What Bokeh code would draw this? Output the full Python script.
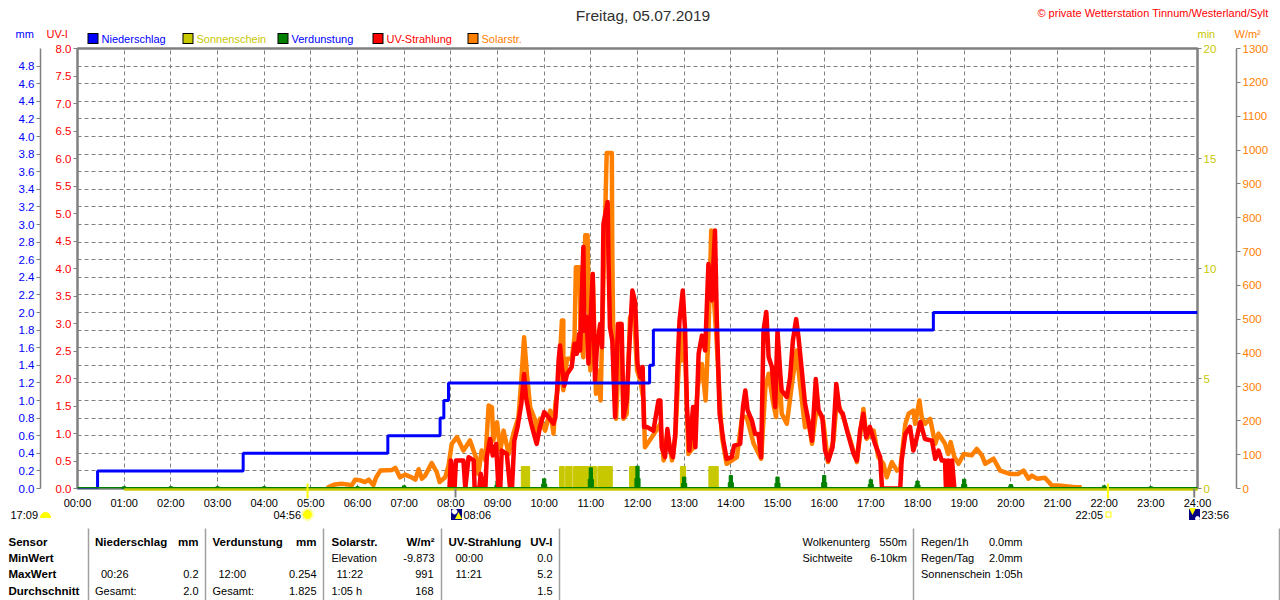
from bokeh.plotting import figure
from bokeh.embed import file_html
from bokeh.resources import INLINE
from bokeh.models import Range1d, LinearAxis, FixedTicker, Grid
from bokeh.core.properties import value

FONT = "Liberation Sans"
GRAY = "#808080"
BLUE = "#0000FF"; OLIVE = "#C8C800"; GREEN = "#008000"; RED = "#FF0000"; ORANGE = "#FF8000"

hours = list(range(25))
hour_labels = [f"{h:02d}:00" for h in hours]
uv_ticks = [i * 0.5 for i in range(17)]
mm_ticks = [round(i * 0.2, 1) for i in range(25)]
min_ticks = [0, 5, 10, 15, 20]
solar_ticks = list(range(0, 1301, 100))

rain_t = [0, 0.43, 3.55, 6.65, 7.77, 7.85, 7.95, 12.26, 12.34, 18.34, 24]
rain_v = [0, 0.2, 0.4, 0.6, 0.8, 1.0, 1.2, 1.4, 1.8, 2.0, 2.0]

sun_start = [9.51, 10.33, 10.46, 10.63, 11.15, 11.83, 12.92, 13.53]
sun_end = [9.69, 10.43, 10.60, 11.12, 11.46, 12.00, 13.03, 13.73]
sun_val = [1, 1, 1, 1, 1, 1, 1, 1]

evap_t = [1, 2, 3, 4, 5, 6, 7, 8, 9, 10, 11, 12, 13, 14, 15, 16, 17, 18, 19, 20, 21, 22, 23]
evap_v = [0.02, 0.02, 0.02, 0.02, 0.01, 0.02, 0.03, 0.03, 0.085, 0.11, 0.235, 0.254, 0.13, 0.147,
          0.13, 0.147, 0.10, 0.085, 0.105, 0.045, 0.03, 0.03, 0.02]

solar_t = [5.35, 5.38, 5.52, 5.66, 5.88, 5.95, 6.06, 6.16, 6.24, 6.34, 6.40, 6.49, 6.74, 6.81, 6.91, 7.02, 7.16, 7.24, 7.31,
           7.38, 7.45, 7.59, 7.70, 7.76, 7.88, 7.95, 8.02, 8.13, 8.27, 8.41, 8.56, 8.59, 8.66, 8.74, 8.81, 8.88, 8.91, 8.99,
           9.06, 9.13, 9.24, 9.34, 9.45, 9.51, 9.57, 9.63, 9.70, 9.81, 9.84, 9.91, 10.02, 10.13, 10.20,
           10.24, 10.31, 10.38, 10.41, 10.41, 10.49, 10.59, 10.65, 10.68, 10.76, 10.78, 10.84, 10.88, 10.93, 10.95, 10.99,
           11.04, 11.11, 11.15, 11.21, 11.25, 11.31, 11.34, 11.45, 11.46, 11.49, 11.54, 11.59, 11.64, 11.70, 11.77, 11.84,
           11.93, 11.99, 12.06, 12.13,
           12.16, 12.31, 12.49, 12.56,
           12.64, 12.74, 12.81, 12.88, 12.93, 12.95, 13.02, 13.09, 13.20, 13.29, 13.38, 13.46, 13.52, 13.58, 13.63, 13.70,
           13.74, 13.81, 13.91, 14.13, 14.24, 14.34, 14.49, 14.65, 14.74, 14.81, 14.91, 14.97, 15.02, 15.09, 15.20, 15.31,
           15.41, 15.49, 15.59, 15.66, 15.74, 15.84, 15.98, 16.08, 16.20, 16.27, 16.41, 16.56, 16.70, 16.84, 16.91, 17.06,
           17.16, 17.27, 17.34, 17.45, 17.56, 17.63, 17.66, 17.74, 17.81, 17.91, 17.95, 18.04, 18.09, 18.16, 18.27, 18.38,
           18.45, 18.59, 18.66, 18.71, 18.79, 18.88, 18.99, 19.16, 19.27, 19.38, 19.45, 19.63, 19.77, 19.98, 20.16, 20.27,
           20.38, 20.45, 20.56, 20.73, 20.88, 21.02, 21.38, 21.52]
solar_v = [0, 4, 12, 14, 10, 26, 24, 19, 26, 10, 33, 53, 55, 61, 33, 41, 33, 26, 57,
           29, 38, 75, 48, 19, 33, 68, 132, 152, 112, 142, 83, 43, 112, 83, 245, 240, 142, 196,
           112, 171, 102, 162, 211, 319, 447, 339, 240, 201, 162, 206, 171, 230, 162,
           250, 309, 496, 496, 290, 383, 383, 447, 654, 654, 447, 388, 748, 748, 556, 349,
           634, 280, 349, 260, 506, 822, 991, 991, 693, 329, 206, 358, 487, 206, 221, 506,
           506, 349, 319, 260,
           122, 152, 191, 83,
           162, 83, 152, 349, 467, 378, 398, 102, 122, 299, 368, 260, 457, 762, 575, 427,
           319, 152, 73, 93, 211, 211, 132, 88, 299, 339, 250, 211, 398, 221, 191, 309,
           408, 299, 181, 201, 132, 240, 201, 78, 142, 260, 211, 142, 78, 235, 147, 171,
           93, 73, 33, 78, 53, 58, 93, 191, 221, 230, 191, 260, 211, 191, 206, 132,
           162, 132, 102, 137, 93, 73, 102, 98, 117, 98, 73, 88, 53, 43, 43, 53,
           29, 38, 29, 32, 9, 9, 4, 4]

uv_t = [7.97, 8.0, 8.08, 8.11, 8.27, 8.31, 8.38, 8.49, 8.51, 8.61, 8.64, 8.69, 8.74, 8.77, 8.84, 8.90, 8.97, 9.02, 9.06,
        9.09, 9.20, 9.27, 9.31, 9.36, 9.43, 9.51, 9.57, 9.61, 9.69, 9.74, 9.84, 9.91, 10.0, 10.09, 10.20,
        10.24, 10.27, 10.31, 10.34, 10.38, 10.43, 10.49, 10.59, 10.65, 10.70, 10.75, 10.77, 10.84, 10.86, 10.91, 10.95,
        11.04, 11.09, 11.13, 11.20, 11.24, 11.27, 11.36, 11.38, 11.41, 11.46, 11.52, 11.58, 11.66, 11.70, 11.77, 11.82,
        11.89, 11.95, 12.0, 12.06, 12.11,
        12.14, 12.20,
        12.34, 12.45, 12.49, 12.52, 12.59, 12.64, 12.70, 12.76, 12.81, 12.86, 12.90, 12.97, 13.02, 13.06, 13.11, 13.19,
        13.24, 13.31, 13.38, 13.45, 13.52, 13.59, 13.66, 13.70, 13.76, 13.84, 13.91, 14.02, 14.07, 14.20, 14.26, 14.31,
        14.36, 14.45, 14.52, 14.59, 14.65, 14.70, 14.76, 14.81, 14.88, 14.95, 15.0, 15.06, 15.09, 15.20, 15.27, 15.33,
        15.40, 15.45, 15.52, 15.59, 15.66, 15.74, 15.82, 15.88, 15.96, 16.02, 16.09, 16.18, 16.26, 16.33, 16.40, 16.49,
        16.63, 16.70, 16.77, 16.84, 16.90, 16.98, 17.09, 17.20, 17.24, 17.63, 17.66, 17.74, 17.84, 17.91, 17.97, 18.06,
        18.16, 18.31, 18.38, 18.45, 18.52, 18.59, 18.61, 18.66, 18.70, 18.74, 18.79]
uv_v = [0, 0.51, 0, 0.51, 0.51, 0, 0.57, 0.51, 0, 0, 0.27, 0, 0, 0.57, 0.90, 0.60, 0.81, 0, 0,
        0.69, 0.63, 0, 0, 0.87, 1.12, 1.54, 2.08, 1.66, 1.30, 1.12, 0.81, 1.12, 1.39, 1.30, 1.18,
        1.30, 1.66, 2.33, 2.60, 2.21, 1.87, 2.08, 2.21, 2.63, 2.45, 2.81, 2.51, 4.39, 2.87, 3.12, 2.27,
        3.90, 1.96, 2.57, 2.99, 2.57, 4.81, 5.21, 4.08, 2.93, 2.69, 1.30, 2.99, 2.99, 1.30, 1.60, 2.51,
        3.60, 3.39, 2.27, 2.02, 2.21,
        1.12, 1.12,
        1.05, 1.60, 1.60, 0.75, 0.57, 1.08, 0.69, 0.57, 0.99, 2.27, 3.05, 3.60, 2.87, 1.48, 0.69, 1.48,
        0.75, 2.45, 2.78, 2.51, 4.08, 3.42, 4.69, 3.05, 1.36, 0.87, 0.54, 0.57, 0.78, 0.81, 1.48, 1.78,
        1.42, 1.24, 0.99, 0.99, 0.57, 2.87, 3.21, 2.39, 2.21, 1.48, 2.87, 2.08, 1.78, 1.66, 2.02, 2.69,
        3.08, 2.75, 2.15, 1.54, 1.24, 0.87, 1.99, 1.42, 1.30, 0.69, 0.51, 0.75, 1.90, 1.42, 1.36, 1.05,
        0.63, 0.51, 1.05, 1.36, 0.93, 1.12, 0.81, 0.57, 0, 0, 0.51, 0.99, 1.12, 0.69, 0.87, 1.21,
        0.90, 0.87, 0.54, 0.69, 0.51, 0.51, 0, 0.51, 0, 0.51, 0]

legend_names = ["Niederschlag", "Sonnenschein", "Verdunstung", "UV-Strahlung", "Solarstr."]
legend_fill = [BLUE, OLIVE, GREEN, RED, ORANGE]
legend_text = [BLUE, OLIVE, BLUE, RED, ORANGE]

sunrise_tick_t = [4.93, 22.08]
dawn_tick_t = [8.10, 23.93]

P_L, P_R, P_T, P_B = 77, 1197, 48, 488
def hx(X): return (X - P_L) / (P_R - P_L) * 24
def sy(Y): return (P_B - Y) / (P_B - P_T) * 1300
def my(Y): return (P_B - Y) / (P_B - P_T) * 5

p = figure(width=1280, height=600, output_backend="svg", toolbar_location=None,
           x_range=Range1d(0, 24), y_range=Range1d(0, 1300),
           x_axis_location="below", y_axis_location=None,
           min_border_left=P_L, min_border_right=1280 - P_R,
           min_border_top=P_T, min_border_bottom=600 - P_B,
           background_fill_color="white", border_fill_color="white")
p.extra_y_ranges = {"mm": Range1d(0, 5), "uv": Range1d(0, 8), "min": Range1d(0, 20)}
p.outline_line_color = GRAY
p.outline_line_width = 2.5

ax = p.xaxis[0]
ax.ticker = FixedTicker(ticks=hours)
ax.major_label_overrides = dict(zip(hours, hour_labels))
ax.axis_line_color = None
ax.major_tick_line_color = None
ax.major_tick_out = 0
ax.major_tick_in = 0
ax.minor_tick_line_color = None
ax.major_label_standoff = 8
ax.major_label_text_font = FONT
ax.major_label_text_font_size = "11px"
ax.major_label_text_color = "black"

def yaxis(rng, ticks, color, side, fmt=None, line=False, extra=None):
    a = LinearAxis(y_range_name=rng, ticker=FixedTicker(ticks=ticks))
    a.major_label_overrides = {t: (fmt % t) for t in ticks} if fmt else {}
    a.major_label_text_color = color
    a.major_label_text_font = FONT
    a.major_label_text_font_size = "11.5px"
    a.major_tick_line_color = GRAY
    a.major_tick_in = 0
    a.major_tick_out = 4
    a.major_label_standoff = 2
    a.minor_tick_line_color = None
    a.axis_line_color = GRAY if line else None
    a.axis_line_width = 1.5
    if extra is not None:
        a.axis_label = " "
        a.axis_label_text_font_size = "1px"
        a.axis_label_standoff = extra
    p.add_layout(a, side)
    return a

uv_axis = yaxis("uv", uv_ticks, RED, "left", "%.1f", extra=8)
mm_axis = yaxis("mm", mm_ticks, BLUE, "left", "%.1f", line=True)
min_axis = yaxis("min", min_ticks, OLIVE, "right", extra=13)
sol_axis = yaxis("default", solar_ticks, ORANGE, "right", line=True)

p.xgrid.ticker = FixedTicker(ticks=hours[1:-1])
p.xgrid.grid_line_color = GRAY
p.xgrid.grid_line_dash = "4 3"
p.xgrid.grid_line_width = 1
p.ygrid.grid_line_color = None
gy = Grid(dimension=1, y_range_name="mm", ticker=FixedTicker(ticks=mm_ticks[1:]))
gy.grid_line_color = GRAY
gy.grid_line_dash = "4 3"
gy.grid_line_width = 1
p.add_layout(gy)

p.quad(left=sun_start, right=sun_end, bottom=0, top=sun_val, y_range_name="min", color=OLIVE)
p.vbar(x=evap_t, top=evap_v, bottom=0, width=0.07, y_range_name="mm", color=GREEN)
p.vbar(x=evap_t, top=[v * 0.45 for v in evap_v], bottom=0, width=0.11, y_range_name="mm", color=GREEN)
p.line(solar_t, solar_v, line_color=ORANGE, line_width=4.5, line_join="round")
p.line(uv_t, uv_v, y_range_name="uv", line_color=RED, line_width=4.5, line_join="round")
p.step(rain_t, rain_v, mode="after", y_range_name="mm", line_color=BLUE, line_width=3)

# baseline bands, below the frame edge
p.segment([1], [my(488.8)], [24], [my(488.8)], y_range_name="mm", line_color=OLIVE, line_width=3, level="overlay")
p.segment([0], [my(487.2)], [24], [my(487.2)], y_range_name="mm", line_color=GREEN, line_width=1.2, level="overlay")

# sunrise / sunset markers on the time axis
p.segment(sunrise_tick_t, my(483), sunrise_tick_t, my(498), y_range_name="mm",
          line_color="#FFFF00", line_width=2, level="overlay")
p.segment(dawn_tick_t, my(488), dawn_tick_t, my(497), y_range_name="mm",
          line_color=GRAY, line_width=2, level="overlay")

# table separators
for X in [88, 205, 323, 441, 559, 913, 1279]:
    p.segment(hx(X), my(528), hx(X), my(600), y_range_name="mm", line_color="#A0A0A0",
              line_width=1.5, level="overlay")

def lab(text, X, Y, color="black", align="left", size="11px", bold=False):
    if bold:
        size = "11.5px"
    p.text(x=[hx(X)], y=[sy(Y)], text=[text], text_color=color, text_align=align,
           text_baseline="middle", text_font=value(FONT), text_font_size=value(size), level="overlay",
           text_font_style="bold" if bold else "normal")

def square(X, Y, side, color):
    # a short thick stroke stands in for a filled square outside the frame
    p.segment([hx(X - side / 2)], [my(Y)], [hx(X + side / 2)], [my(Y)], y_range_name="mm",
              line_color=color, line_width=side, level="overlay")

def disc(X, Y, r, color, start=0, end=6.2):
    p.wedge([hx(X)], [my(Y)], radius=r, radius_units="screen", start_angle=start, end_angle=end,
            y_range_name="mm", fill_color=color, line_color=color, level="overlay")

def tri(X, Y, s, color, up=True):
    d = s if up else -s
    p.patch([hx(X - s), hx(X + s), hx(X)], [my(Y + d), my(Y + d), my(Y - d)], y_range_name="mm",
            fill_color=color, line_color=None, level="overlay")

lab("Freitag, 05.07.2019", 642.5, 15, "#303030", "center", "15.5px")
lab("© private Wetterstation Tinnum/Westerland/Sylt", 1268, 12, RED, "right")
lab("mm", 15, 33, BLUE)
lab("UV-I", 46, 33, RED)
lab("min", 1197, 33, OLIVE)
lab("W/m²", 1234, 33, ORANGE)

# legend
legend_sq = [87, 182, 277, 372, 467]
for X, nm, f, c in zip(legend_sq, legend_names, legend_fill, legend_text):
    square(X + 5.5, 38, 11, "black")
    square(X + 5.5, 38, 9, f)
    lab(nm, X + 14, 38, c)

# sun times
lab("17:09", 10, 514)
lab("04:56", 273, 514)
lab("08:06", 463, 514)
lab("22:05", 1075, 514)
lab("23:56", 1201, 514)
disc(45, 517, 5, "#FFFF00", 0, 3.1416)
disc(307, 514, 6, "#FFFFB0")
disc(307, 514, 4, "#FFFF00")
square(1108, 514, 6, "#FFFF00")
square(1108, 514, 4, "white")
square(456, 514, 11, "#000080")
square(1194, 514, 11, "#000080")
disc(454, 511, 2.5, "white")
tri(458, 515, 3.5, "#FFFF00")
tri(1192, 511, 3.5, "#FFFF00", up=False)
disc(1197, 518, 2, "white")

# table
R1, R2, R3, R4 = 541, 557, 573, 590
lab("Sensor", 8, R1, bold=True); lab("MinWert", 8, R2, bold=True)
lab("MaxWert", 8, R3, bold=True); lab("Durchschnitt", 8, R4, bold=True)
lab("Niederschlag", 94.5, R1, bold=True); lab("mm", 198, R1, align="right", bold=True)
lab("00:26", 100.5, R3); lab("0.2", 198, R3, align="right")
lab("Gesamt:", 94.5, R4); lab("2.0", 198, R4, align="right")
lab("Verdunstung", 212, R1, bold=True); lab("mm", 316, R1, align="right", bold=True)
lab("12:00", 218, R3); lab("0.254", 316, R3, align="right")
lab("Gesamt:", 212, R4); lab("1.825", 316, R4, align="right")
lab("Solarstr.", 331, R1, bold=True); lab("W/m²", 434, R1, align="right", bold=True)
lab("Elevation", 331, R2); lab("-9.873", 434, R2, align="right")
lab("11:22", 336, R3); lab("991", 433, R3, align="right")
lab("1:05 h", 331, R4); lab("168", 433, R4, align="right")
lab("UV-Strahlung", 448, R1, bold=True); lab("UV-I", 552, R1, align="right", bold=True)
lab("00:00", 455, R2); lab("0.0", 552, R2, align="right")
lab("11:21", 455, R3); lab("5.2", 552, R3, align="right")
lab("1.5", 552, R4, align="right")
lab("Wolkenunterg", 802, R1); lab("550m", 906.5, R1, align="right")
lab("Sichtweite", 802, R2); lab("6-10km", 906.5, R2, align="right")
lab("Regen/1h", 920.5, R1); lab("0.0mm", 1022, R1, align="right")
lab("Regen/Tag", 920.5, R2); lab("2.0mm", 1022, R2, align="right")
lab("Sonnenschein", 920.5, R3); lab("1:05h", 1022, R3, align="right")

open("out.html", "w").write(file_html(p, INLINE))
